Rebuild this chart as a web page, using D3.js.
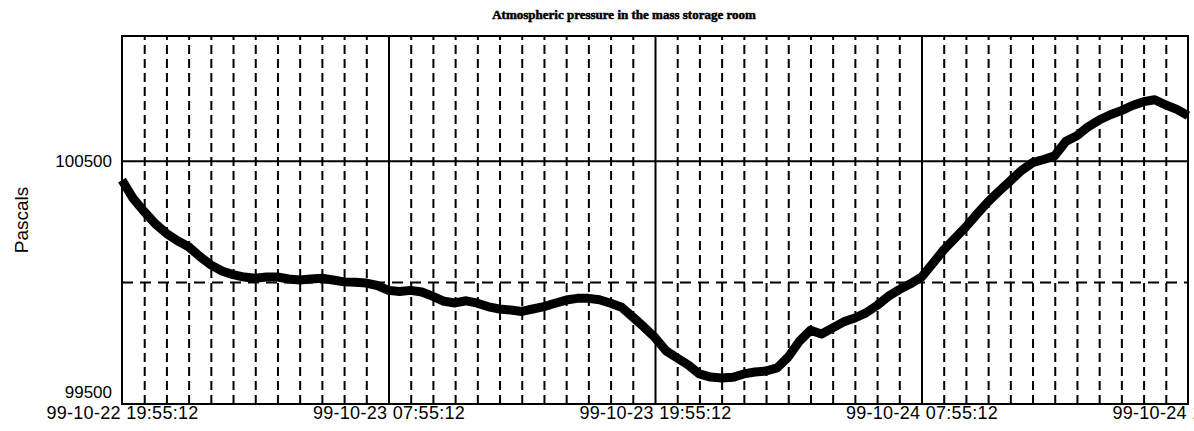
<!DOCTYPE html>
<html>
<head>
<meta charset="utf-8">
<script src="https://cdn.jsdelivr.net/npm/d3@7"></script>
<style>
  body { margin: 0; background: #fff; }
  svg { display: block; }
</style>
</head>
<body>
<script>
// valeurs, une toutes les 30 min depuis 99-10-22 19:55:12
const pressure = [
  100420, 100345, 100290, 100240, 100200, 100170, 100145, 100105, 100070, 100045,
  100030, 100020, 100015, 100020, 100020, 100012, 100008, 100012, 100015, 100008,
  100000, 99998, 99995, 99985, 99965, 99960, 99965, 99958, 99940, 99920,
  99913, 99922, 99912, 99897, 99888, 99884, 99878, 99888, 99898, 99912,
  99925, 99932, 99932, 99926, 99912, 99895, 99855, 99814, 99770, 99715,
  99686, 99657, 99620, 99607, 99603, 99606, 99620, 99628, 99632, 99645,
  99690, 99755, 99800, 99785, 99810, 99835, 99851, 99872, 99903, 99940,
  99968, 99992, 100020, 100075, 100132, 100180, 100227, 100280, 100331, 100375,
  100417, 100460, 100492, 100505, 100521, 100580, 100603, 100640, 100668, 100690,
  100707, 100728, 100744, 100752, 100730, 100712, 100686
];
const sampleStepMinutes = 30;
const startTime = new Date(1999, 9, 22, 19, 55, 12);
const endTime = new Date(1999, 9, 24, 19, 55, 12);

const yTickLabels = [99500, 100500];
const ySolidLines = [100500];
const yDashedLines = [100000];
const yTop = 101015;

const title = "Atmospheric pressure in the mass storage room";
const yTitle = "Pascals";

const W = 1194, H = 431;
const margin = { top: 36, right: 6, bottom: 27, left: 122 };
const width = W - margin.left - margin.right,
      height = H - margin.top - margin.bottom;

const times = pressure.map((_, i) => d3.timeMinute.offset(startTime, i * sampleStepMinutes));

const svg = d3.select("body").append("svg")
  .attr("width", W)
  .attr("height", H);

const g = svg.append("g")
  .attr("transform", "translate(" + margin.left + "," + margin.top + ")");

const x = d3.scaleTime().domain([startTime, endTime]).range([0, width]);
const y = d3.scaleLinear().domain([99500, yTop]).range([height - 1, 0]);

// lignes verticales : pointillés chaque heure, trait plein toutes les 12 h
const hours = d3.range(1, 48).map(h => d3.timeHour.offset(startTime, h));
const minorHours = hours.filter((d, i) => (i + 1) % 12 !== 0);
const majorHours = hours.filter((d, i) => (i + 1) % 12 === 0);

g.append("g")
  .attr("class", "minor-grid")
  .attr("transform", "translate(0," + height + ")")
  .call(d3.axisBottom(x).tickValues(minorHours).tickSize(-height).tickFormat(""))
  .call(s => s.select(".domain").remove())
  .call(s => s.selectAll("line")
    .attr("stroke", "#000").attr("stroke-width", 2).attr("stroke-dasharray", "9,5"));

g.append("g")
  .attr("class", "major-grid")
  .attr("transform", "translate(0," + height + ")")
  .call(d3.axisBottom(x).tickValues(majorHours).tickSize(-height).tickFormat(""))
  .call(s => s.select(".domain").remove())
  .call(s => s.selectAll("line").attr("stroke", "#000").attr("stroke-width", 2));

// lignes horizontales
g.append("g")
  .call(d3.axisLeft(y).tickValues(ySolidLines).tickSize(-width).tickFormat(""))
  .call(s => s.select(".domain").remove())
  .call(s => s.selectAll("line").attr("stroke", "#000").attr("stroke-width", 2));

g.append("g")
  .call(d3.axisLeft(y).tickValues(yDashedLines).tickSize(-width).tickFormat(""))
  .call(s => s.select(".domain").remove())
  .call(s => s.selectAll("line")
    .attr("stroke", "#000").attr("stroke-width", 2).attr("stroke-dasharray", "11,7"));

// courbe
const line = d3.line()
  .x((d, i) => x(times[i]))
  .y(d => y(d))
  .curve(d3.curveLinear);

g.append("path")
  .datum(pressure)
  .attr("fill", "none")
  .attr("stroke", "#000")
  .attr("stroke-width", 9)
  .attr("stroke-linejoin", "round")
  .attr("stroke-linecap", "butt")
  .attr("d", line);

// cadre
g.append("rect")
  .attr("x", 0).attr("y", 0)
  .attr("width", width).attr("height", height)
  .attr("fill", "none")
  .attr("stroke", "#000")
  .attr("stroke-width", 2);

// axe X (étiquettes)
const fmt = d3.timeFormat("%y-%m-%d %H:%M:%S");
const xLabels = [startTime].concat(majorHours, [endTime]);
g.append("g")
  .attr("transform", "translate(0," + height + ")")
  .call(d3.axisBottom(x).tickValues(xLabels).tickSize(0).tickPadding(2).tickFormat(fmt))
  .call(s => s.select(".domain").remove())
  .call(s => s.selectAll("text")
    .attr("font-family", "'Liberation Sans', Arial, sans-serif")
    .attr("font-size", 18)
    .attr("letter-spacing", 0.3)
    .attr("fill", "#000"));

// axe Y (étiquettes)
g.append("g")
  .call(d3.axisLeft(y).tickValues(yTickLabels).tickSize(0).tickPadding(10).tickFormat(d3.format("d")))
  .call(s => s.select(".domain").remove())
  .call(s => s.selectAll("text")
    .attr("font-family", "'Liberation Sans', Arial, sans-serif")
    .attr("font-size", 17)
    .attr("fill", "#000")
    .attr("dy", d => d === 99500 ? "-0.3em" : "0.32em"));

svg.append("text")
  .attr("transform", "translate(28,220) rotate(-90)")
  .attr("text-anchor", "middle")
  .attr("font-family", "'Liberation Sans', Arial, sans-serif")
  .attr("font-size", 19)
  .attr("fill", "#000")
  .text(yTitle);

svg.append("text")
  .attr("x", 624)
  .attr("y", 19)
  .attr("text-anchor", "middle")
  .attr("font-family", "'Liberation Serif', 'Times New Roman', serif")
  .attr("font-weight", "bold")
  .attr("font-size", 13)
  .attr("stroke", "#000")
  .attr("stroke-width", 0.5)
  .attr("fill", "#000")
  .text(title);
</script>
</body>
</html>
